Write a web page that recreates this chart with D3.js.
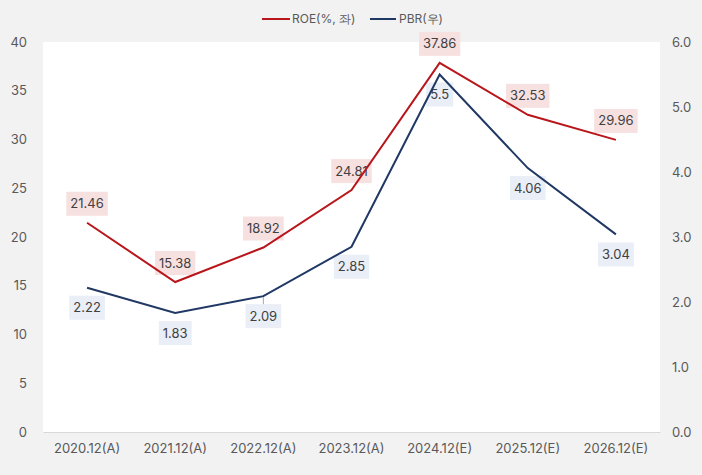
<!DOCTYPE html>
<html>
<head>
<meta charset="utf-8">
<script src="https://cdn.jsdelivr.net/npm/d3@7"></script>
<style>
  body { margin: 0; background: #f2f2f2; }
  text { font-family: Inter, "Noto Sans", sans-serif; }
</style>
</head>
<body>
<div id="chart"></div>
<script>
// Data
var categories = ["2020.12(A)", "2021.12(A)", "2022.12(A)", "2023.12(A)", "2024.12(E)", "2025.12(E)", "2026.12(E)"];
var roe = [21.46, 15.38, 18.92, 24.81, 37.86, 32.53, 29.96];
var pbr = [2.22, 1.83, 2.09, 2.85, 5.5, 4.06, 3.04];
var leftTicks = [0, 5, 10, 15, 20, 25, 30, 35, 40];
var rightTicks = [0, 1, 2, 3, 4, 5, 6];

var svgWidth = 702;
var svgHeight = 475;
var margin = { top: 42, right: 42, bottom: 43, left: 43 };
var width = svgWidth - margin.left - margin.right;
var height = svgHeight - margin.top - margin.bottom;

var svg = d3.select("#chart")
  .append("svg")
  .attr("width", svgWidth)
  .attr("height", svgHeight);

svg.append("rect")
  .attr("width", svgWidth)
  .attr("height", svgHeight)
  .attr("fill", "#f2f2f2");

var chartGroup = svg.append("g")
  .attr("transform", `translate(${margin.left}, ${margin.top})`);

// plot area
chartGroup.append("rect")
  .attr("width", width)
  .attr("height", height)
  .attr("fill", "#ffffff");

var xScale = d3.scaleBand().domain(categories).range([0, width]);
var yLeft = d3.scaleLinear().domain([0, 40]).range([height, 0]);
var yRight = d3.scaleLinear().domain([0, 6]).range([height, 0]);

// axes
var xAxis = chartGroup.append("g")
  .attr("transform", `translate(0, ${height})`)
  .call(d3.axisBottom(xScale).tickSize(0).tickPadding(12));
xAxis.select(".domain").attr("stroke", "#d9d9d9");

var leftAxis = chartGroup.append("g")
  .call(d3.axisLeft(yLeft).tickValues(leftTicks).tickSize(0).tickPadding(16));
leftAxis.select(".domain").remove();

var rightAxis = chartGroup.append("g")
  .attr("transform", `translate(${width}, 0)`)
  .call(d3.axisRight(yRight).tickValues(rightTicks).tickFormat(d3.format(".1f")).tickSize(0).tickPadding(12));
rightAxis.select(".domain").remove();

chartGroup.selectAll(".tick text")
  .attr("fill", "#595959")
  .attr("font-size", "13px");

var cx = d => xScale(d) + xScale.bandwidth() / 2;

// data labels (drawn under the lines)
function addLabels(values, scale, offset, bg) {
  var g = chartGroup.selectAll(null)
    .data(values)
    .enter()
    .append("g")
    .attr("transform", (d, i) => `translate(${cx(categories[i])}, ${scale(d) + offset})`);

  g.append("text")
    .attr("text-anchor", "middle")
    .attr("dy", "0.35em")
    .attr("font-size", "13px")
    .attr("fill", "#404040")
    .text(d => d)
    .each(function () {
      var bb = this.getBBox();
      d3.select(this.parentNode).insert("rect", "text")
        .attr("x", bb.x - 4)
        .attr("y", -12)
        .attr("width", bb.width + 8)
        .attr("height", 24)
        .attr("fill", bg);
    });
}

addLabels(roe, yLeft, -19, "#f7e0e0");
addLabels(pbr, yRight, 20, "#e9eef7");

// leader line for 2022 PBR label
chartGroup.append("line")
  .attr("x1", cx(categories[2]))
  .attr("x2", cx(categories[2]))
  .attr("y1", yRight(pbr[2]) + 1)
  .attr("y2", yRight(pbr[2]) + 8)
  .attr("stroke", "#a6a6a6")
  .attr("stroke-width", 1);

// lines
var roeLine = d3.line().x((d, i) => cx(categories[i])).y(d => yLeft(d));
var pbrLine = d3.line().x((d, i) => cx(categories[i])).y(d => yRight(d));

chartGroup.append("path")
  .datum(pbr)
  .attr("d", pbrLine)
  .attr("fill", "none")
  .attr("stroke", "#203864")
  .attr("stroke-width", 2);

chartGroup.append("path")
  .datum(roe)
  .attr("d", roeLine)
  .attr("fill", "none")
  .attr("stroke", "#b8161b")
  .attr("stroke-width", 2);

// legend
var legend = svg.append("g").attr("transform", "translate(0, 19)");
legend.append("line")
  .attr("x1", 262).attr("x2", 290).attr("y1", 0).attr("y2", 0)
  .attr("stroke", "#b8161b").attr("stroke-width", 2);
legend.append("text")
  .attr("x", 292).attr("y", 0).attr("dy", "0.35em")
  .attr("font-size", "12px").attr("fill", "#595959")
  .text("ROE(%, 좌)");
legend.append("line")
  .attr("x1", 370).attr("x2", 396).attr("y1", 0).attr("y2", 0)
  .attr("stroke", "#203864").attr("stroke-width", 2);
legend.append("text")
  .attr("x", 399).attr("y", 0).attr("dy", "0.35em")
  .attr("font-size", "12px").attr("fill", "#595959")
  .text("PBR(우)");
</script>
</body>
</html>
